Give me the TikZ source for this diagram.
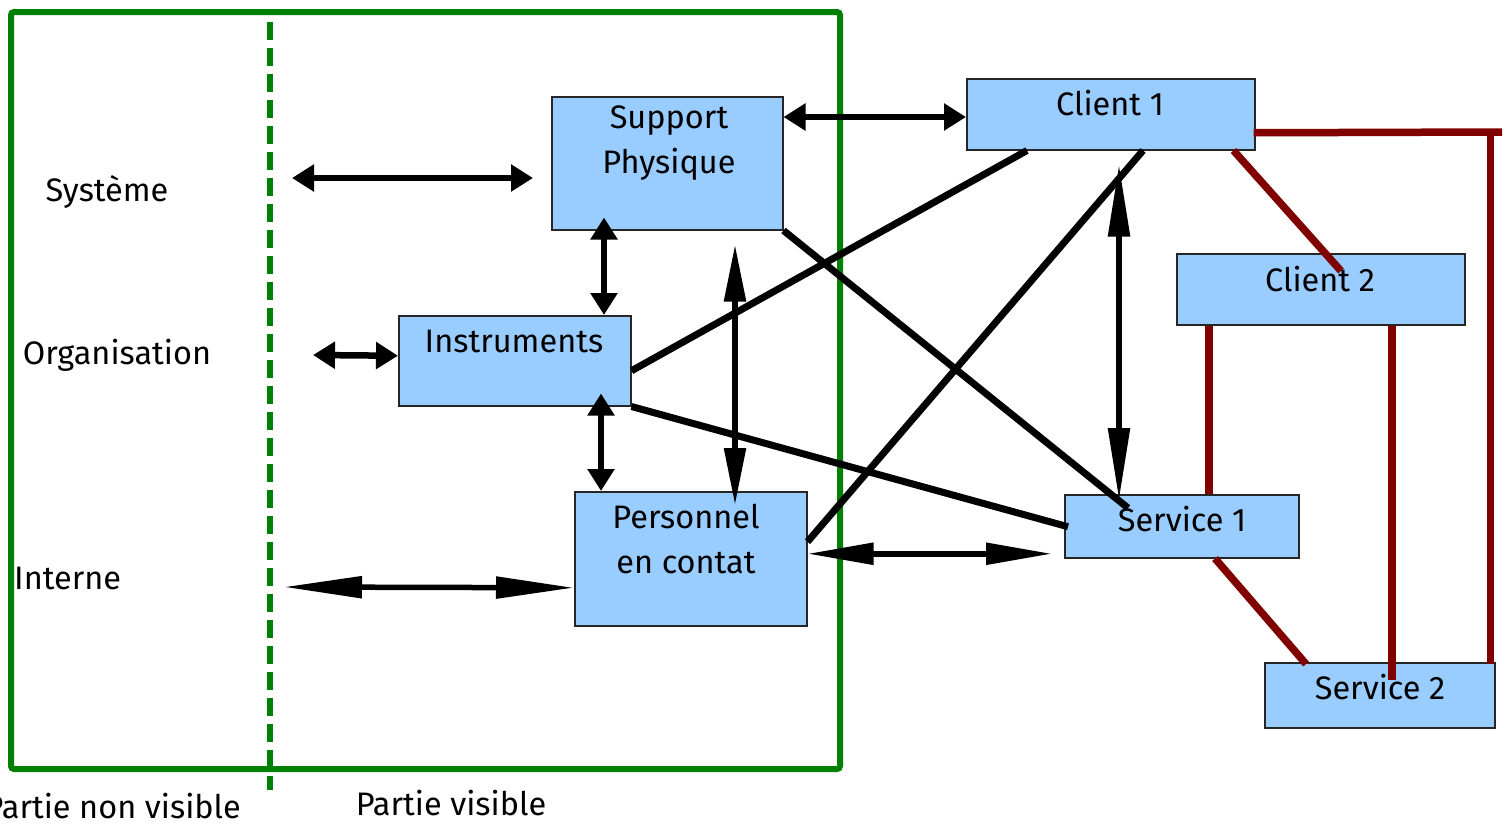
\documentclass[tikz,border=0pt]{standalone}
\usepackage{fontspec}
\setmainfont{Fira Sans}
\usetikzlibrary{arrows.meta,calc}
\definecolor{boxblue}{RGB}{153,204,255}
\definecolor{framegreen}{RGB}{0,128,0}
\definecolor{linkred}{RGB}{128,0,0}
\begin{document}
\begin{tikzpicture}[x=1pt,y=-1pt,
  box/.style={draw=black!85, line width=1.5pt, fill=boxblue, inner sep=0pt, anchor=north west},
  lab/.style={font=\fontsize{32.5}{45}\selectfont, inner sep=0pt, align=center},
  link/.style={line width=7pt},
  redlink/.style={draw=linkred, line width=7.5pt},
  dbl/.style={line width=6.5pt, {Triangle[length=22pt,width=26pt]}-{Triangle[length=22pt,width=26pt]}},
  slim/.style={line width=5.5pt, {Triangle[length=#1,width=21pt]}-{Triangle[length=#1,width=21pt]}},
]
\useasboundingbox (0,0) rectangle (1509,823);

% frame of the firm and the visibility line
\draw[framegreen, line width=6pt, rounded corners=3pt] (11,12) rectangle (840,769);
\draw[framegreen, line width=6pt, dash pattern=on 18pt off 8pt] (270,22) -- (270,790);

% boxes
\node[box, minimum width=231pt, minimum height=133pt] (sp) at (551,96) {};
\node[box, minimum width=232pt, minimum height=90pt] (ins) at (398,315) {};
\node[box, minimum width=232pt, minimum height=134pt] (per) at (574,491) {};
\node[box, minimum width=288pt, minimum height=71pt] (c1) at (966,78) {};
\node[box, minimum width=288pt, minimum height=71pt] (c2) at (1176,253) {};
\node[box, minimum width=234pt, minimum height=63pt] (s1) at (1064,494) {};
\node[box, minimum width=230pt, minimum height=65pt] (s2) at (1264,662) {};

% plain links
\draw[link] ($(c1.south west)+(61,0)$) -- ($(ins.east)+(0,10)$);
\draw[link] ($(c1.south west)+(177,0)$) -- ($(per.east)+(0,-17)$);
\draw[link] (sp.south east) -- ($(s1.north west)+(64,14)$);
\draw[link] (ins.south east) -- ($(s1.west)+(4,0.5)$);

% links between clients and services
\coordinate (rc) at (1502,132);
\coordinate (s2r) at ($(s2.north east)+(-5,2)$);
\draw[redlink] ($(c1.east)+(-2,18.5)$) -- (rc);
\draw[redlink] (s2r) -- (s2r |- rc);
\draw[redlink] ($(c1.south east)+(-22,0)$) -- ($(c2.north west)+(165,18)$);
\draw[redlink] ($(c2.south west)+(33,0)$) -- ($(s1.north west)+(145,0)$);
\draw[redlink] ($(c2.south west)+(216,0)$) -- ($(s2.north west)+(128,18)$);
\draw[redlink] ($(s1.south west)+(151,0)$) -- ($(s2.north west)+(42,2)$);

% two-way arrows
\coordinate (sysl) at (292,178);
\coordinate (sysr) at (533,178);
\coordinate (orgl) at (313,355);
\coordinate (intl) at (284,587);
\draw[dbl] (sysl) -- (sysr);
\draw[dbl] (orgl) -- ($(ins.west)+(0,-5)$);
\draw[slim=78pt] (intl) -- ($(per.west)+(0,29)$);
\draw[dbl] ($(sp.north east)+(0,21)$) -- ($(c1.north west)+(0,39)$);
\draw[dbl] ($(sp.south west)+(53,-13)$) -- ($(ins.north west)+(206,0)$);
\draw[dbl] ($(ins.south west)+(203,-13)$) -- ($(per.north west)+(27,0)$);
\draw[slim=57pt] ($(sp.south west)+(184,14)$) -- ($(per.north west)+(161,14)$);
\draw[slim=66pt] ($(per.east)+(0,-5)$) -- ($(s1.west)+(-12,27.5)$);
\draw[slim=72pt] ($(c1.south west)+(153,14)$) -- ($(s1.north west)+(55,6)$);

% box texts
\node[lab] (spt) at (669,143) {Support\\Physique};
\node[lab] (inst) at (514,341) {Instruments};
\node[lab] (pert) at (686,539) {Personnel\\en contat};
\node[lab] (c1t) at (1110,103) {Client 1};
\node[lab] (c2t) at (1320,279) {Client 2};
\node[lab] (s1t) at (1182,519) {Service 1};
\node[lab] (s2t) at (1380,687) {Service 2};

% side and bottom labels
\node[lab] (sys) at (107,192) {Système};
\node[lab] (org) at (117,355) {Organisation};
\node[lab, anchor=west] (int) at (14,578) {Interne};
\node[lab, anchor=east] (pnv) at (241,806) {Partie non visible};
\node[lab] (pv) at (451,803) {Partie visible};
\end{tikzpicture}
\end{document}
